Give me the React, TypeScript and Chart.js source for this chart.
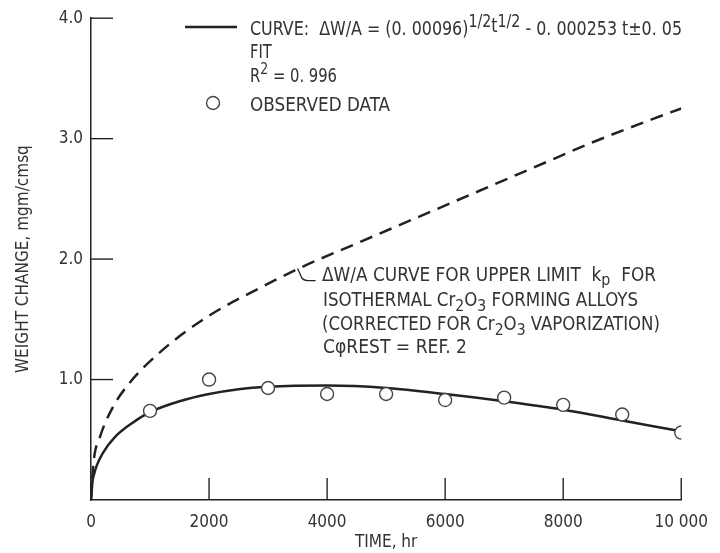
import React, { useEffect, useRef } from 'react';
import { Chart, registerables } from 'chart.js';

Chart.register(...registerables);

// ---- data ----
const fitTime = [0, 25, 50, 100, 200, 400, 700, 1000, 1500, 2000, 2500, 3000, 4000, 5000, 6000, 7000, 8000, 9000, 10000];
const fitWeight = [0, 0.15, 0.21, 0.29, 0.39, 0.52, 0.64, 0.73, 0.82, 0.88, 0.92, 0.94, 0.95, 0.93, 0.88, 0.82, 0.75, 0.66, 0.57];

const limitTime = [0, 40, 150, 370, 650, 1200, 2000, 2900, 3600, 4500, 5500, 6500, 7500, 8500, 9500, 10000];
const limitWeight = [0, 0.3, 0.52, 0.77, 0.97, 1.24, 1.53, 1.77, 1.94, 2.13, 2.34, 2.55, 2.76, 2.97, 3.16, 3.25];

const obsTime = [1000, 2000, 3000, 4000, 5000, 6000, 7000, 8000, 9000, 10000];
const obsWeight = [0.74, 1.0, 0.93, 0.88, 0.88, 0.83, 0.85, 0.79, 0.71, 0.56];

const xTickValues = [0, 2000, 4000, 6000, 8000, 10000];
const xTickLabels = ['0', '2000', '4000', '6000', '8000', '10 000'];
const yTickValues = [0, 1, 2, 3, 4];
const yTickLabels = ['', '1.0', '2.0', '3.0', '4.0'];

const xTitle = 'TIME, hr';
const yTitle = 'WEIGHT CHANGE, mgm/cmsq';

const FAMILY = "'DejaVu Sans Condensed', 'DejaVu Sans', sans-serif";
const INK = '#222222';
const TEXT = '#333333';

type Run = { t: string; dy?: number; size?: number };

// draws a line of text runs, squeezed horizontally so it ends at endX
function drawRuns(ctx: CanvasRenderingContext2D, runs: Run[], x: number, y: number, endX: number | null, base: number) {
  let natural = 0;
  const widths: number[] = [];
  for (const r of runs) {
    ctx.font = `${r.size ?? base}px ${FAMILY}`;
    const w = ctx.measureText(r.t).width;
    widths.push(w);
    natural += w;
  }
  let sx = 0.86;
  if (endX != null && natural > 0) sx = Math.max(0.6, Math.min(1.2, (endX - x) / natural));
  ctx.save();
  ctx.translate(x, y);
  ctx.scale(sx, 1);
  let cx = 0;
  runs.forEach((r, i) => {
    ctx.font = `${r.size ?? base}px ${FAMILY}`;
    ctx.fillText(r.t, cx, r.dy ?? 0);
    cx += widths[i];
  });
  ctx.restore();
}

const decorPlugin = {
  id: 'decor',
  afterDraw(chart: any) {
    const { ctx, chartArea, scales } = chart;
    const xs = scales.x;
    const ys = scales.y;
    ctx.save();
    // inward tick marks
    ctx.strokeStyle = INK;
    ctx.lineWidth = 1.4;
    for (const v of xTickValues) {
      if (v === 0) continue;
      const px = xs.getPixelForValue(v);
      ctx.beginPath();
      ctx.moveTo(px, chartArea.bottom);
      ctx.lineTo(px, chartArea.bottom - 22);
      ctx.stroke();
    }
    for (const v of yTickValues) {
      if (v === 0) continue;
      const py = ys.getPixelForValue(v);
      ctx.beginPath();
      ctx.moveTo(chartArea.left, py);
      ctx.lineTo(chartArea.left + 22, py);
      ctx.stroke();
    }

    // legend
    ctx.lineWidth = 2.5;
    ctx.beginPath();
    ctx.moveTo(185, 27);
    ctx.lineTo(237, 27);
    ctx.stroke();
    ctx.lineWidth = 1.4;
    ctx.strokeStyle = '#444';
    ctx.fillStyle = '#fff';
    ctx.beginPath();
    ctx.arc(213, 103, 6.5, 0, Math.PI * 2);
    ctx.fill();
    ctx.stroke();

    ctx.fillStyle = TEXT;
    ctx.textBaseline = 'alphabetic';
    ctx.textAlign = 'left';
    drawRuns(ctx, [
      { t: 'CURVE:  \u0394W/A = (0. 00096)' },
      { t: '1/2', dy: -8, size: 17 },
      { t: 't', dy: -3 },
      { t: '1/2', dy: -8, size: 17 },
      { t: ' - 0. 000253 t\u00b10. 05' },
    ], 250, 35, 682, 19);
    drawRuns(ctx, [{ t: 'FIT' }], 250, 58, null, 19);
    drawRuns(ctx, [{ t: 'R' }, { t: '2', dy: -8, size: 16 }, { t: ' = 0. 996' }], 250, 82, 337, 19);
    drawRuns(ctx, [{ t: 'OBSERVED DATA' }], 250, 111, 390, 19);

    // annotation for dashed curve
    drawRuns(ctx, [
      { t: '\u0394W/A CURVE FOR UPPER LIMIT  k' },
      { t: 'p', dy: 4, size: 16 },
      { t: '  FOR' },
    ], 322, 281, 656, 19);
    drawRuns(ctx, [
      { t: 'ISOTHERMAL Cr' },
      { t: '2', dy: 5, size: 16 },
      { t: 'O' },
      { t: '3', dy: 5, size: 16 },
      { t: ' FORMING ALLOYS' },
    ], 323, 306, 638, 19);
    drawRuns(ctx, [
      { t: '(CORRECTED FOR Cr' },
      { t: '2', dy: 5, size: 16 },
      { t: 'O' },
      { t: '3', dy: 5, size: 16 },
      { t: ' VAPORIZATION)' },
    ], 322, 330, 660, 19);
    drawRuns(ctx, [{ t: 'C\u03c6REST = REF. 2' }], 323, 353, 467, 19);

    // leader from curve to annotation
    const sx = xs.getPixelForValue(3500);
    const sy = ys.getPixelForValue(1.93);
    ctx.strokeStyle = INK;
    ctx.lineWidth = 1.3;
    ctx.beginPath();
    ctx.moveTo(sx, sy + 1);
    ctx.lineTo(sx + 4, sy + 10);
    ctx.quadraticCurveTo(sx + 6, sy + 13, sx + 10, sy + 13);
    ctx.lineTo(sx + 18, sy + 13);
    ctx.stroke();
    ctx.restore();
  },
};

export default function App() {
  const ref = useRef<HTMLCanvasElement | null>(null);

  useEffect(() => {
    if (!ref.current) return;
    const toXY = (xs: number[], ys: number[]) => xs.map((x, i) => ({ x, y: ys[i] }));
    const chart = new Chart(ref.current, {
      type: 'scatter',
      data: {
        datasets: [
          {
            label: 'Curve fit',
            data: toXY(fitTime, fitWeight),
            showLine: true,
            borderColor: INK,
            borderWidth: 2.5,
            pointRadius: 0,
            cubicInterpolationMode: 'monotone',
            order: 2,
          },
          {
            label: 'Upper limit kp',
            data: toXY(limitTime, limitWeight),
            showLine: true,
            borderColor: INK,
            borderWidth: 2.5,
            borderDash: [13, 8],
            pointRadius: 0,
            cubicInterpolationMode: 'monotone',
            order: 3,
          },
          {
            label: 'Observed data',
            data: toXY(obsTime, obsWeight),
            showLine: false,
            pointRadius: 6.5,
            pointBackgroundColor: '#ffffff',
            pointBorderColor: '#444444',
            pointBorderWidth: 1.4,
            order: 1,
          },
        ],
      } as any,
      options: {
        responsive: false,
        animation: false,
        layout: { padding: { left: 0, top: 15, right: 26, bottom: 0 } },
        plugins: {
          legend: { display: false },
          tooltip: { enabled: false },
        },
        scales: {
          x: {
            type: 'linear',
            min: 0,
            max: 10000,
            grid: { display: false, drawTicks: false },
            border: { display: true, color: INK, width: 1.5 },
            afterBuildTicks: (s: any) => {
              s.ticks = xTickValues.map((v) => ({ value: v }));
            },
            afterFit: (s: any) => {
              s.height = 53;
            },
            ticks: {
              maxRotation: 0,
              padding: 12,
              color: TEXT,
              font: { family: FAMILY, size: 17 },
              callback: (v: any) => {
                const i = xTickValues.indexOf(Number(v));
                return i >= 0 ? xTickLabels[i] : '';
              },
            },
            title: {
              display: true,
              text: xTitle,
              color: TEXT,
              font: { family: FAMILY, size: 17 },
              padding: { top: 0, bottom: 0 },
            },
          },
          y: {
            type: 'linear',
            min: 0,
            max: 4,
            grid: { display: false, drawTicks: false },
            border: { display: true, color: INK, width: 1.5 },
            afterBuildTicks: (s: any) => {
              s.ticks = yTickValues.map((v) => ({ value: v }));
            },
            afterFit: (s: any) => {
              s.width = 91;
            },
            ticks: {
              padding: 8,
              color: TEXT,
              font: { family: FAMILY, size: 17 },
              callback: (v: any) => {
                const i = yTickValues.indexOf(Number(v));
                return i >= 0 ? yTickLabels[i] : '';
              },
            },
            title: {
              display: true,
              text: yTitle,
              color: TEXT,
              font: { family: FAMILY, size: 17 },
              padding: { top: 13, bottom: 0 },
            },
          },
        },
      } as any,
      plugins: [decorPlugin],
    });
    return () => chart.destroy();
  }, []);

  return (
    <div style={{ position: 'fixed', left: 0, top: 0, width: 720, height: 553, background: '#ffffff' }}>
      <canvas ref={ref} width={720} height={553} style={{ display: 'block', width: 720, height: 553 }} />
    </div>
  );
}
